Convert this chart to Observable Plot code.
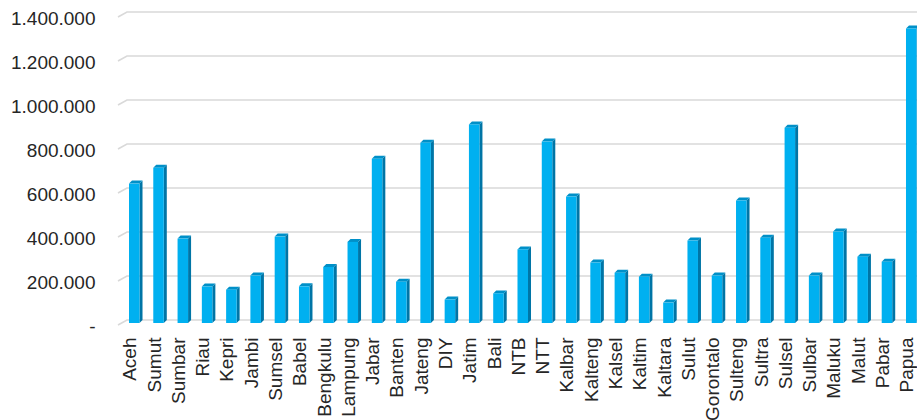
<!DOCTYPE html>
<html><head><meta charset="utf-8">
<script src="https://cdn.jsdelivr.net/npm/d3@7"></script>
<script src="https://cdn.jsdelivr.net/npm/@observablehq/plot@0.6"></script>
<style>
html,body{margin:0;padding:0;background:#fff;}
#chart svg{display:block;}
</style>
</head><body><div id="chart"></div>
<script>
const provinces = ["Aceh","Sumut","Sumbar","Riau","Kepri","Jambi","Sumsel","Babel","Bengkulu","Lampung","Jabar","Banten","Jateng","DIY","Jatim","Bali","NTB","NTT","Kalbar","Kalteng","Kalsel","Kaltim","Kaltara","Sulut","Gorontalo","Sulteng","Sultra","Sulsel","Sulbar","Maluku","Malut","Pabar","Papua"];
const values = [620000,692000,370000,152000,138000,202000,379000,153000,241000,355000,733000,174000,806000,93000,889000,121000,321000,811000,561000,261000,215000,197000,79000,361000,202000,543000,374000,874000,202000,402000,288000,265000,1325000];
const yTicks = [0,200000,400000,600000,800000,1000000,1200000,1400000];

const data = provinces.map((p, i) => ({province: p, value: values[i]}));
const idFmt = d3.formatLocale({decimal: ",", thousands: ".", grouping: [3], currency: ["Rp", ""]}).format(",d");
const tickFormat = d => d === 0 ? "-" : idFmt(d);

const FRONT = "#00B0F0", SIDE = "#0075A6", TOP = "#0090C8";
const DEPTH = 3;
const BASE_DROP = 3;

function bars3d(index, scales, vals) {
  const g = d3.create("svg:g");
  const X = vals.x, Y1 = vals.y1, Y2 = vals.y2;
  const bw = scales.x.bandwidth();
  for (const i of index) {
    const x = X[i];
    const yt = Math.min(Y1[i], Y2[i]);
    const yb = Math.max(Y1[i], Y2[i]) + BASE_DROP;
    g.append("polygon")
      .attr("points", `${x+bw},${yt} ${x+bw+DEPTH},${yt-DEPTH} ${x+bw+DEPTH},${yb-DEPTH} ${x+bw},${yb}`)
      .attr("fill", SIDE);
    g.append("polygon")
      .attr("points", `${x},${yt} ${x+DEPTH},${yt-DEPTH} ${x+bw+DEPTH},${yt-DEPTH} ${x+bw},${yt}`)
      .attr("fill", TOP);
    g.append("rect")
      .attr("x", x).attr("y", yt).attr("width", bw).attr("height", yb - yt)
      .attr("fill", FRONT);
  }
  return g.node();
}

function grid3d(index, scales, vals, dims) {
  const g = d3.create("svg:g");
  const Y = vals.y;
  const x0 = dims.marginLeft, x1 = dims.width - dims.marginRight;
  for (const i of index) {
    const y = Y[i];
    g.append("path")
      .attr("d", `M${x0 - 9},${y + 5}L${x0},${y}L${x1},${y}`)
      .attr("fill", "none").attr("stroke", "#d9d9d9").attr("stroke-width", 1.6);
  }
  return g.node();
}

const chart = Plot.plot({
  width: 917,
  height: 420,
  marginTop: 12,
  marginBottom: 100,
  marginLeft: 127,
  marginRight: 0,
  style: {fontFamily: "'Liberation Sans', Arial, sans-serif", fontSize: "19px", color: "#262626", background: "#fff"},
  x: {domain: provinces, range: [129, 916.5], paddingInner: 0.567, paddingOuter: 0, align: 0.5, round: false},
  y: {domain: [0, 1400000]},
  marks: [
    Plot.ruleY(yTicks, {y: d => d, render: grid3d}),
    Plot.axisY(yTicks, {tickSize: 0, tickPadding: 32, tickFormat, dy: 6, fontSize: 19, fill: "#262626", label: null}),
    Plot.axisX({tickSize: 0, tickPadding: 17, tickRotate: -90, dx: -4.5, fontSize: 19, fill: "#262626", label: null}),
    Plot.barY(data, {x: "province", y: "value", render: bars3d})
  ]
});
document.getElementById("chart").append(chart);
</script>
</body></html>
